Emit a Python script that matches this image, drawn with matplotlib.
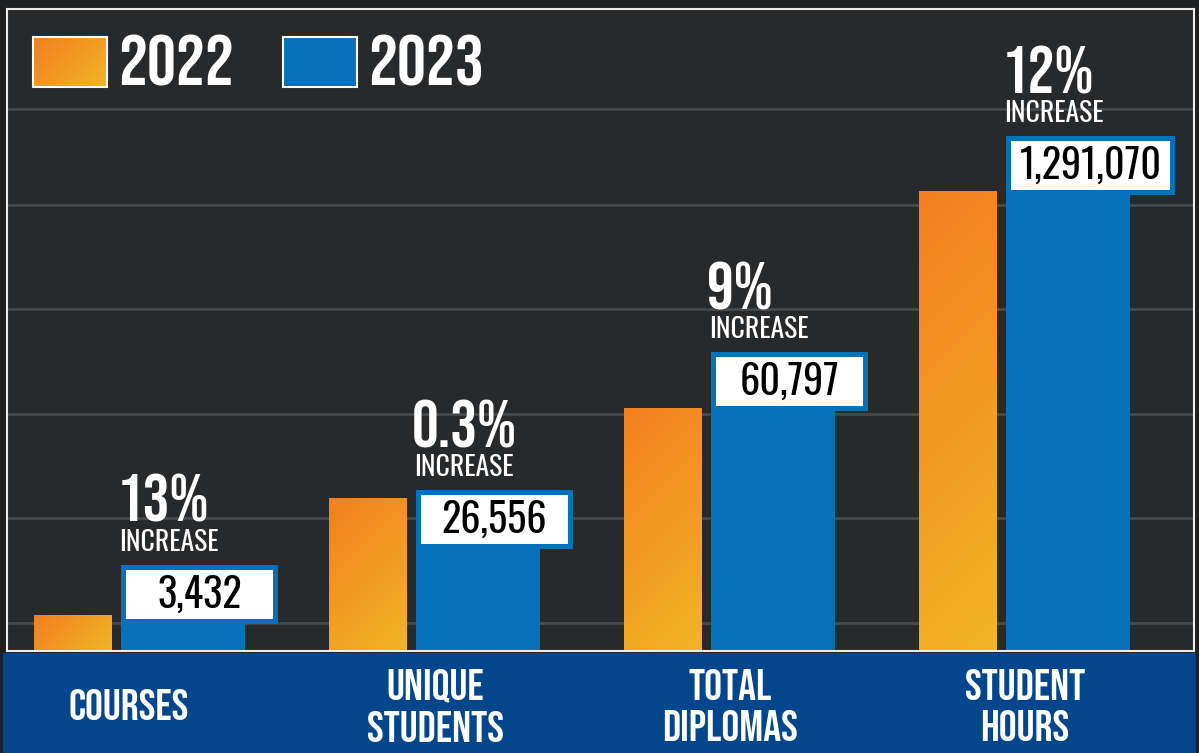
import numpy as np
import matplotlib
matplotlib.use("Agg")
import matplotlib.pyplot as plt
from matplotlib.patches import Rectangle
from matplotlib.colors import LinearSegmentedColormap
from matplotlib.transforms import blended_transform_factory

plt.rcParams['font.family'] = ['Bebas Neue', 'Oswald', 'DejaVu Sans']
THIN = ['Oswald', 'Bebas Neue', 'DejaVu Sans']

categories = ['COURSES', 'UNIQUE\nSTUDENTS', 'TOTAL\nDIPLOMAS', 'STUDENT\nHOURS']
years = ['2022', '2023']
values_2023 = ['3,432', '26,556', '60,797', '1,291,070']
pct_increase = ['13%', '0.3%', '9%', '12%']
# bar heights as drawn in the graphic (it is not to scale)
bar_2022 = [36, 153, 243, 460]
bar_2023 = [86, 161, 299, 515]
grid_levels = [28, 133, 237, 342, 446, 542]

BLUE = '#0571ba'
BAND = '#03468b'
orange_cmap = LinearSegmentedColormap.from_list('og', ['#f37f1f', '#f1b525'])

W, H = 1199, 753
fig = plt.figure(figsize=(W / 100, H / 100), dpi=100, facecolor='#1e1f21')

# plot area in pixels
L, R, T, B = 7, 1194, 9, 651
ax = fig.add_axes([L / W, 1 - B / H, (R - L) / W, (B - T) / H])
ax.set_facecolor('#27292b')
PX = 295.0   # pixels per category step
X0 = 140     # pixel x of the first group centre


def px(v):
    return v / PX


x = np.arange(len(categories))

# 2022 bars with diagonal orange gradient
orange = ax.bar(x - px(67), bar_2022, width=px(78), color='#f29a22', zorder=2)
for rect in orange:
    x0, w, h = rect.get_x(), rect.get_width(), rect.get_height()
    wp, hp = max(int(w * PX), 2), max(int(h), 2)
    uu, vv = np.meshgrid(np.arange(wp), np.arange(hp))
    t = (uu + vv) / (wp + hp - 2)
    im = ax.imshow(t, cmap=orange_cmap, extent=(x0, x0 + w, 0, h), origin='upper',
                   aspect='auto', interpolation='bilinear', zorder=2.1)
    im.set_clip_path(rect)

# 2023 bars
blue = ax.bar(x + px(43), bar_2023, width=px(124), color=BLUE, zorder=2)

box_w = [157, 157, 157, 169]
for i, rect in enumerate(blue):
    left, top = rect.get_x(), rect.get_height()
    bw = px(box_w[i])
    ax.add_patch(Rectangle((left, top - 59), bw, 59, facecolor=BLUE, edgecolor='none', zorder=3))
    ax.add_patch(Rectangle((left + px(5), top - 54), bw - px(10), 49,
                           facecolor='white', edgecolor='none', zorder=4))
    ax.text(left + bw / 2, top - 43, values_2023[i], ha='center', va='baseline',
            fontsize=29, family=THIN, fontweight='medium', color='black', zorder=5)
    ax.text(left - px(4), top + 43, pct_increase[i], ha='left', va='baseline',
            fontsize=48, color='white', zorder=5)
    ax.text(left - px(2), top + 14, 'INCREASE', ha='left', va='baseline',
            fontsize=20, family=THIN, fontweight='light', color='white', zorder=5)

# legend drawn by hand
lx0, ly0 = px(33 - X0), B - 87
uu, vv = np.meshgrid(np.arange(74), np.arange(50))
im = ax.imshow((uu + vv) / 122, cmap=orange_cmap, extent=(lx0, lx0 + px(74), ly0, ly0 + 50),
               origin='upper', aspect='auto', interpolation='bilinear', zorder=3)
ax.add_patch(Rectangle((lx0, ly0), px(74), 50, facecolor='none', edgecolor='white', lw=1.5, zorder=4))
ax.add_patch(Rectangle((px(283 - X0), ly0), px(74), 50, facecolor=BLUE, edgecolor='white', lw=1.5, zorder=4))
ax.text(px(118 - X0), B - 86, years[0], ha='left', va='baseline', fontsize=52,
        color='white', zorder=5)
ax.text(px(368 - X0), B - 86, years[1], ha='left', va='baseline', fontsize=52,
        color='white', zorder=5)

ax.set_xlim((L - X0) / PX, (R - X0) / PX)
ax.set_ylim(0, B - T)
ax.set_yticks(grid_levels)
ax.set_xticks([])
ax.yaxis.grid(True, color='#474a4c', lw=2)
ax.set_axisbelow(True)
ax.tick_params(left=False, labelleft=False)
for s in ax.spines.values():
    s.set_color('#ececec')
    s.set_linewidth(1.5)

# blue band with category names
fig.add_artist(Rectangle((3 / W, 0), (1196 - 3) / W, (H - 653) / H, transform=fig.transFigure,
                         facecolor=BAND, edgecolor='none', zorder=0))
trans = blended_transform_factory(ax.transData, fig.transFigure)
label_shift = [-11, 0, 0, 0]
for i, cat in enumerate(categories):
    ax.text(i + px(label_shift[i]), 1 - 705 / H, cat, transform=trans, ha='center', va='center',
            fontsize=32, color='white', linespacing=1.3)

fig.savefig('out.png', dpi=100, facecolor=fig.get_facecolor())
